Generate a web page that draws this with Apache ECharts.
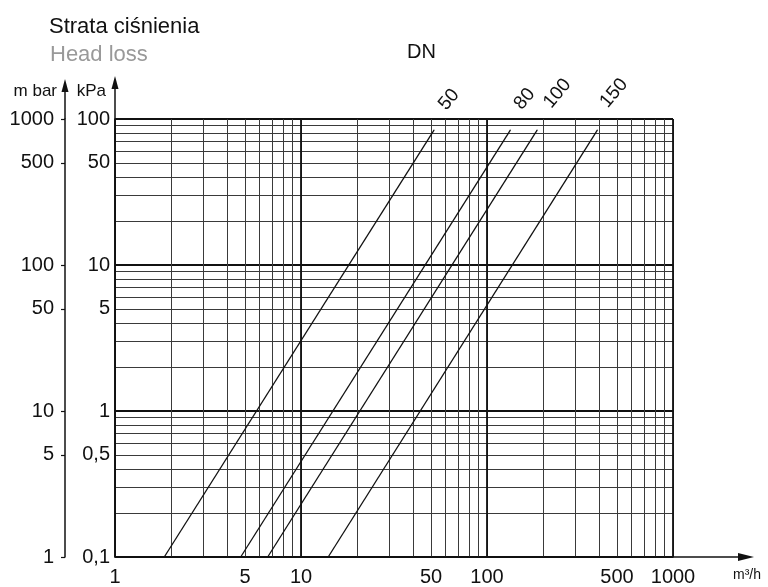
<!DOCTYPE html>
<html>
<head>
<meta charset="utf-8">
<script src="https://cdn.jsdelivr.net/npm/echarts@6/dist/echarts.min.js"></script>
<style>html,body{margin:0;padding:0;background:#fff}#c{width:768px;height:587px}</style>
</head>
<body>
<div id="c"></div>
<script>
// ---- data (real units: flow m3/h, head loss kPa) ----
const flowTicks = [1, 5, 10, 50, 100, 500, 1000];
const kPaTicks = [0.1, 0.5, 1, 5, 10, 50, 100];
const mbarTicks = [1, 5, 10, 50, 100, 500, 1000];
const gridMultiples = [1, 2, 3, 4, 5, 6, 7, 8, 9];
const flowDecades = [1, 10, 100, 1000];
const kPaDecades = [0.1, 1, 10, 100];
const dnNames = ['50', '80', '100', '150'];
const dn50 = [[1.84, 0.1], [51.9, 84]];
const dn80 = [[4.74, 0.1], [133.5, 84]];
const dn100 = [[6.62, 0.1], [186, 84]];
const dn150 = [[14.0, 0.1], [392, 84]];

const lg = v => Math.log10(v);
const fmt = v => String(parseFloat(Math.pow(10, v).toPrecision(6))).replace('.', ',');
function gridValues(decades) {
  const out = [];
  for (let i = 0; i < decades.length - 1; i++) gridMultiples.forEach(m => out.push(lg(m * decades[i])));
  out.push(lg(decades[decades.length - 1]));
  return out;
}
const FONT = 'Liberation Sans, Arial, sans-serif';
const chart = echarts.init(document.getElementById('c'), null, {renderer: 'canvas'});

// label offsets are given in the label's rotated frame
const labelOffsets = [[33, -8], [33, -9], [41, -8], [39, -11]];
const series = [dn50, dn80, dn100, dn150].map((d, i) => ({
  type: 'line',
  name: 'DN' + dnNames[i],
  xAxisIndex: 0, yAxisIndex: 0,
  symbol: 'circle', symbolSize: 1, showSymbol: true,
  itemStyle: {color: '#111'},
  lineStyle: {color: '#111', width: 1.3},
  animation: false,
  z: 5,
  data: d.map(([q, p], j) => j === d.length - 1 ? {
    value: [lg(q), lg(p)],
    label: {show: true, formatter: dnNames[i], position: 'inside', rotate: 50,
      offset: labelOffsets[i], fontSize: 19, fontFamily: FONT, color: '#111'}
  } : [lg(q), lg(p)])
}));

const option = {
  animation: false,
  backgroundColor: '#fff',
  title: [
    {text: 'Strata ciśnienia', left: 44, top: 11, textStyle: {fontFamily: FONT, fontSize: 22, fontWeight: 'normal', color: '#111'}},
    {text: 'Head loss', left: 45, top: 39, textStyle: {fontFamily: FONT, fontSize: 22, fontWeight: 'normal', color: '#999'}},
    {text: 'DN', left: 402, top: 37, textStyle: {fontFamily: FONT, fontSize: 20, fontWeight: 'normal', color: '#111'}}
  ],
  grid: {left: 115, right: 95, top: 119, bottom: 27},
  xAxis: [
    {type: 'value', min: 0, max: 3, position: 'bottom',
      name: 'm³/h', nameLocation: 'end', nameGap: 60,
      nameTextStyle: {fontFamily: FONT, fontSize: 14, color: '#111', verticalAlign: 'top', padding: [11, 0, 0, 0]},
      axisLine: {show: true, onZero: false, lineStyle: {color: '#111', width: 1.6}},
      axisTick: {show: false, customValues: gridValues(flowDecades)},
      axisLabel: {customValues: flowTicks.map(lg), formatter: fmt, fontFamily: FONT, fontSize: 20, color: '#111', margin: 10},
      splitLine: {show: true, lineStyle: {color: '#3a3a3a', width: 1}}
    },
    {type: 'value', min: 0, max: 3, position: 'bottom',
      axisLine: {show: false, onZero: false}, axisLabel: {show: false},
      axisTick: {show: false, customValues: flowDecades.map(lg)},
      splitLine: {show: true, lineStyle: {color: '#111', width: 1.8}}
    }
  ],
  yAxis: [
    {type: 'value', min: -1, max: 2, position: 'left',
      name: 'kPa', nameLocation: 'end', nameGap: 19,
      nameTextStyle: {fontFamily: FONT, fontSize: 17, color: '#111', align: 'right', padding: [0, 9, 0, 0]},
      axisLine: {show: true, onZero: false, lineStyle: {color: '#111', width: 1.6}},
      axisTick: {show: false, customValues: gridValues(kPaDecades)},
      axisLabel: {customValues: kPaTicks.map(lg), formatter: fmt, fontFamily: FONT, fontSize: 20, color: '#111', margin: 5},
      splitLine: {show: true, lineStyle: {color: '#3a3a3a', width: 1}}
    },
    {type: 'value', min: 0, max: 3, position: 'left', offset: 50,
      name: 'm bar', nameLocation: 'end', nameGap: 19,
      nameTextStyle: {fontFamily: FONT, fontSize: 17, color: '#111', align: 'right', padding: [0, 8, 0, 0]},
      axisLine: {show: true, onZero: false, lineStyle: {color: '#111', width: 1.5}},
      axisTick: {show: true, inside: false, length: 4, customValues: mbarTicks.map(lg), lineStyle: {color: '#111', width: 1.2}},
      axisLabel: {customValues: mbarTicks.map(lg), formatter: fmt, fontFamily: FONT, fontSize: 20, color: '#111', margin: 11},
      splitLine: {show: false}
    },
    {type: 'value', min: -1, max: 2, position: 'left',
      axisLine: {show: false, onZero: false}, axisLabel: {show: false},
      axisTick: {show: false, customValues: kPaDecades.map(lg)},
      splitLine: {show: true, lineStyle: {color: '#111', width: 1.8}}
    }
  ],
  series: series
};
chart.setOption(option);

// axis arrows, positioned from the axes' own pixel mapping
const pTop = chart.convertToPixel({xAxisIndex: 0, yAxisIndex: 0}, [0, 2]);
const pBot = chart.convertToPixel({xAxisIndex: 0, yAxisIndex: 0}, [0, -1]);
const pRight = chart.convertToPixel({xAxisIndex: 0, yAxisIndex: 0}, [3, -1]);
const outerX = pTop[0] - 50;
const st = {stroke: '#111', lineWidth: 1.5};
function vArrow(x, yFrom, tip) {
  return [
    {type: 'line', shape: {x1: x, y1: yFrom, x2: x, y2: tip + 10}, style: st, silent: true},
    {type: 'polygon', shape: {points: [[x, tip], [x - 3.5, tip + 13], [x + 3.5, tip + 13]]}, style: {fill: '#111'}, silent: true}
  ];
}
const tipX = pRight[0] + 81;
chart.setOption({graphic: [
  ...vArrow(pTop[0], pTop[1], 76),
  ...vArrow(outerX, pTop[1], 79),
  {type: 'line', shape: {x1: pRight[0], y1: pBot[1], x2: tipX - 10, y2: pBot[1]}, style: st, silent: true},
  {type: 'polygon', shape: {points: [[tipX, pBot[1]], [tipX - 16, pBot[1] - 4], [tipX - 16, pBot[1] + 4]]}, style: {fill: '#111'}, silent: true}
]});
</script>
</body>
</html>
